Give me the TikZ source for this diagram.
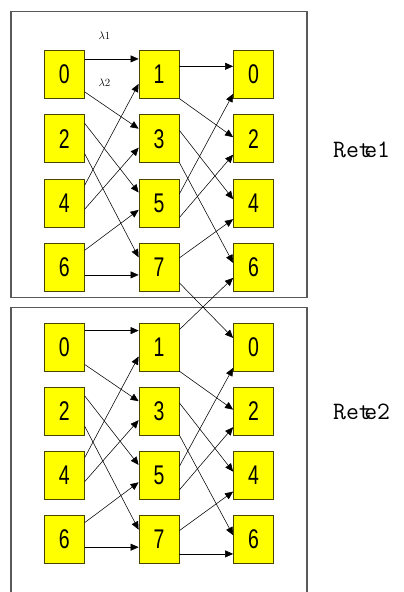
\documentclass[tikz,border=0pt]{standalone}
\usepackage{fontspec}
\usetikzlibrary{calc,arrows.meta}
\newfontfamily\digitfont{Liberation Sans}[FakeStretch=0.72]
\definecolor{boxfill}{RGB}{255,255,0}
\definecolor{boxline}{RGB}{70,70,0}
\definecolor{framegray}{RGB}{90,90,90}
\tikzset{
  cell/.style={draw=boxline, fill=boxfill, line width=0.8pt, minimum width=40pt,
    minimum height=48pt, inner sep=0pt, font=\digitfont\fontsize{27}{27}\selectfont},
  edge/.style={draw=black, line width=0.55pt, -{Triangle[length=8pt,width=7pt]}},
  frame/.style={draw=framegray, line width=1.3pt},
  wlabel/.style={font=\fontsize{11}{13}\selectfont, inner sep=0pt},
  netlabel/.style={font=\ttfamily\fontsize{25}{25}\selectfont, anchor=west, inner sep=0pt}
}
% connector from the right side of #1 (offset #2 below its top)
% to the left side of #3 (offset #4 below its top)
\newcommand{\link}[4]{\draw[edge] ($(#1.north east)+(0,#2)$) -- ($(#3.north west)+(0,#4)$);}
\begin{document}
\begin{tikzpicture}[x=1pt,y=-1pt]
\useasboundingbox (0,0) rectangle (404,592);
% frames of the two networks
\draw[frame] (11,11.7) rectangle (307,297.7);
\begin{scope}
  \clip (0,0) rectangle (404,592);
  \draw[frame] (11,620) -- (11,307.3) -- (307,307.3) -- (307,620);
\end{scope}
% first network
\node[cell] (a0) at (64.3,74.7) {0};
\node[cell] (a2) at (64.3,138.8) {2};
\node[cell] (a4) at (64.3,202.9) {4};
\node[cell] (a6) at (64.3,267) {6};
\node[cell] (b1) at (159,74.7) {1};
\node[cell] (b3) at (159,138.8) {3};
\node[cell] (b5) at (159,202.9) {5};
\node[cell] (b7) at (159,267) {7};
\node[cell] (c0) at (253.5,74.7) {0};
\node[cell] (c2) at (253.5,138.8) {2};
\node[cell] (c4) at (253.5,202.9) {4};
\node[cell] (c6) at (253.5,267) {6};
% second network
\node[cell] (d0) at (64.3,347.3) {0};
\node[cell] (d2) at (64.3,411.3) {2};
\node[cell] (d4) at (64.3,475.3) {4};
\node[cell] (d6) at (64.3,539.3) {6};
\node[cell] (e1) at (159,347.3) {1};
\node[cell] (e3) at (159,411.3) {3};
\node[cell] (e5) at (159,475.3) {5};
\node[cell] (e7) at (159,539.3) {7};
\node[cell] (f0) at (253.5,347.3) {0};
\node[cell] (f2) at (253.5,411.3) {2};
\node[cell] (f4) at (253.5,475.3) {4};
\node[cell] (f6) at (253.5,539.3) {6};
% wavelength labels
\node[wlabel] (l1) at (104.5,36) {$\lambda$1};
\node[wlabel] (l2) at (104.5,83) {$\lambda$2};
% network names
\node[netlabel] (r1) at (333,150) {Ret\kern-0.3em e1};
\node[netlabel] (r2) at (333,412) {Ret\kern-0.3em e2};
% first network, stage 1
\link{a0}{8.6}{b1}{8.6}
\link{a0}{41.6}{b3}{14.3}
\link{a2}{9}{b5}{14}
\link{a2}{39.3}{b7}{14.7}
\link{a4}{6.7}{b1}{33.6}
\link{a4}{30.7}{b3}{33.3}
\link{a6}{7.7}{b5}{31.4}
\link{a6}{32.3}{b7}{32.3}
% first network, stage 2
\link{b1}{16}{c0}{16}
\link{b1}{48.3}{c2}{22.7}
\link{b3}{16}{c4}{20.7}
\link{b3}{48.3}{c6}{20.3}
\link{b5}{15.4}{c0}{43.6}
\link{b5}{39}{c2}{40.3}
\link{b7}{15.3}{c4}{40.7}
% crossing links between the networks
\link{b7}{40.3}{f0}{15}
\link{e1}{6.7}{c6}{35.3}
% second network, stage 1
\link{d0}{7.7}{e1}{7.7}
\link{d0}{41.6}{e3}{14.3}
\link{d2}{9}{e5}{14}
\link{d2}{39.3}{e7}{14.7}
\link{d4}{6.7}{e1}{33.6}
\link{d4}{30.7}{e3}{33.3}
\link{d6}{7.7}{e5}{31.4}
\link{d6}{32.3}{e7}{32.3}
% second network, stage 2
\link{e1}{48.3}{f2}{22.7}
\link{e3}{16}{f4}{20.7}
\link{e3}{48.3}{f6}{20.3}
\link{e5}{15.4}{f0}{45}
\link{e5}{39}{f2}{40.3}
\link{e7}{15.7}{f4}{40.7}
\link{e7}{39}{f6}{39}
\end{tikzpicture}
\end{document}
